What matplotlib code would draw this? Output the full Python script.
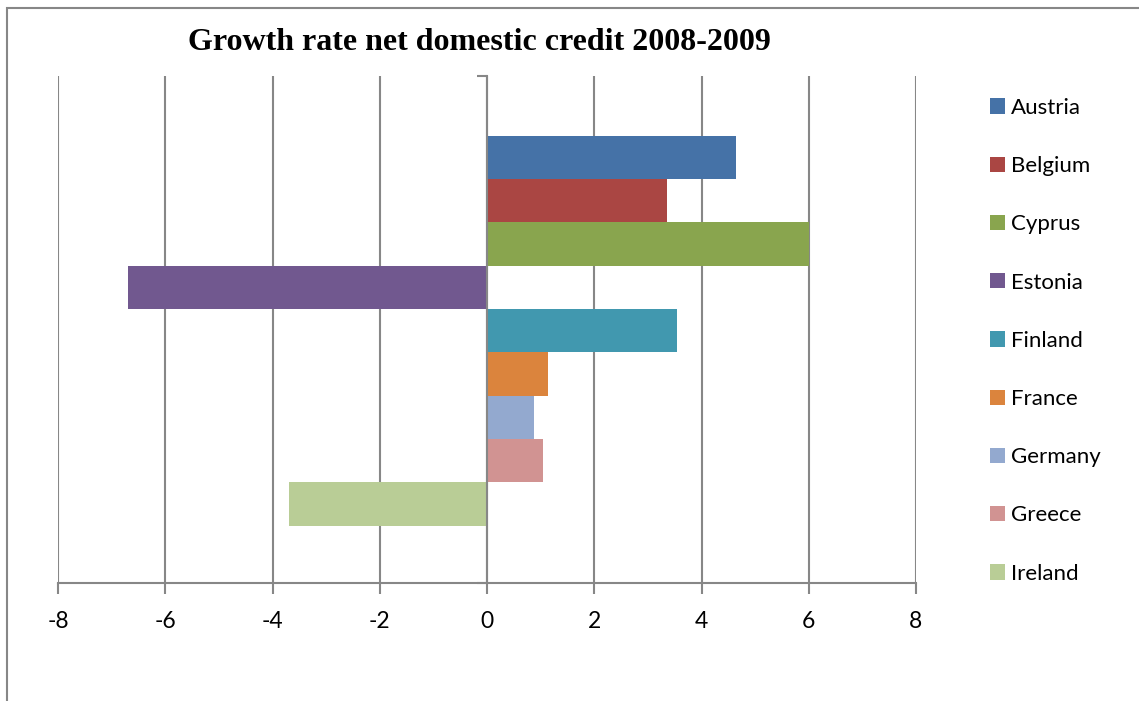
import matplotlib.pyplot as plt
from matplotlib.patches import Rectangle

countries = ["Austria", "Belgium", "Cyprus", "Estonia", "Finland",
             "France", "Germany", "Greece", "Ireland"]
growth = [4.64, 3.35, 6.00, -6.69, 3.54, 1.13, 0.88, 1.05, -3.70]
colors = ["#4572A7", "#AA4643", "#89A54E", "#71588F", "#4198AF",
          "#DB843D", "#93A9CF", "#D19392", "#B9CD96"]
x_ticks = [-8, -6, -4, -2, 0, 2, 4, 6, 8]

grey = "#878787"
label_font = "Lato"

fig = plt.figure(figsize=(11.39, 7.01), dpi=100)
ax = fig.add_axes([58 / 1139, 118 / 701, 858 / 1139, 507 / 701])

# one category, nine series stacked top to bottom
for i, (name, val, col) in enumerate(zip(countries, growth, colors)):
    ax.barh(i, val, height=1.0, color=col, label=name, zorder=2)

ylo, yhi = 9.82, -1.88
ax.set_ylim(ylo, yhi)
ax.set_xlim(-8, 8)
ax.set_xticks(x_ticks)
ax.set_xticklabels([str(t) for t in x_ticks], fontfamily=label_font, fontsize=16.5)

ax.set_axisbelow(True)
ax.grid(axis="x", color=grey, linewidth=1.5)
ax.grid(axis="y", visible=False)

for side in ["top", "right"]:
    ax.spines[side].set_visible(False)
ax.spines["bottom"].set_color(grey)
ax.spines["bottom"].set_linewidth(1.5)
ax.spines["left"].set_position(("data", 0))
ax.spines["left"].set_color(grey)
ax.spines["left"].set_linewidth(1.5)
ax.spines["left"].set_zorder(3)

ax.tick_params(axis="x", direction="out", length=8, width=1.5, color=grey, pad=12)
ax.set_yticks([yhi, ylo])
ax.set_yticklabels(["", ""])
ax.tick_params(axis="y", direction="out", length=7, width=1.5, color=grey)

fig.text(479 / 1139, 1 - 42 / 701, "Growth rate net domestic credit 2008-2009",
         ha="center", va="center", fontfamily="Liberation Serif",
         fontweight="bold", fontsize=23)

fig.legend(loc="upper left", bbox_to_anchor=(981 / 1139, 1 - 89 / 701),
           frameon=False, prop={"family": label_font, "size": 16},
           handlelength=0.68, handleheight=0.68, handletextpad=0.25,
           labelspacing=1.72, borderaxespad=0)

# chart area border (only top and left edges fall inside the image)
fig.patches.append(Rectangle((7 / 1139, -0.1), 1.2, 1 - 8 / 701 + 0.1,
                             transform=fig.transFigure, fill=False,
                             edgecolor=grey, linewidth=1.5))

fig.savefig("out.png", dpi=100)
